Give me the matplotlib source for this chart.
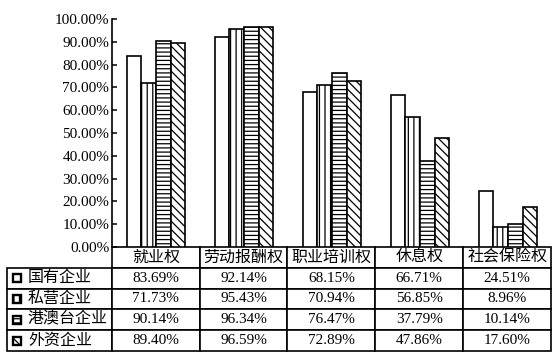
import numpy as np
import matplotlib
matplotlib.use("Agg")
import matplotlib.pyplot as plt
from matplotlib.patches import Rectangle

plt.rcParams['font.family'] = ['Liberation Serif', 'Noto Sans CJK SC']
plt.rcParams['hatch.linewidth'] = 0.9

categories = ['就业权', '劳动报酬权', '职业培训权', '休息权', '社会保险权']
series_names = ['国有企业', '私营企业', '港澳台企业', '外资企业']
state_owned = [83.69, 92.14, 68.15, 66.71, 24.51]
private = [71.73, 95.43, 70.94, 56.85, 8.96]
hk_mo_tw = [90.14, 96.34, 76.47, 37.79, 10.14]
foreign = [89.40, 96.59, 72.89, 47.86, 17.60]
series = [state_owned, private, hk_mo_tw, foreign]
hatches = ['', '|||', '----', '\\\\\\\\']
y_ticks = np.arange(0, 101, 10)

W, H = 552, 352
fig = plt.figure(figsize=(W / 100, H / 100), dpi=100)
ax = fig.add_axes([112 / W, 1 - 247 / H, 440 / W, 228 / H])

x = np.arange(len(categories))
bw = 0.165
for i, (vals, hatch) in enumerate(zip(series, hatches)):
    ax.bar(x + (i - 1.5) * bw, vals, bw, facecolor='white', edgecolor='black',
           linewidth=1.2, hatch=hatch, zorder=2)

ax.set_xlim(-0.5, len(categories) - 0.5)
ax.set_ylim(0, 100)
ax.set_yticks(y_ticks)
ax.set_yticklabels(['%.2f%%' % v for v in y_ticks], fontsize=11)
ax.set_xticks([])
ax.tick_params(axis='y', direction='in', length=3.3, width=1.1, pad=2)
for s in ['top', 'right', 'bottom']:
    ax.spines[s].set_visible(False)
ax.spines['left'].set_linewidth(1.2)

# data table under the bars
cell_text = [[''] + categories]
for name, vals in zip(series_names, series):
    cell_text.append([name] + ['%.2f%%' % v for v in vals])
col_w = [105] + [88] * 5
tbl = ax.table(cellText=cell_text, colWidths=[c / sum(col_w) for c in col_w],
               cellLoc='center', bbox=[(7 - 112) / 440, -104 / 228, 544 / 440, 104 / 228])
tbl.auto_set_font_size(False)
tbl.set_fontsize(11)
for (r, c), cell in tbl.get_celld().items():
    cell.set_linewidth(1.2)
    if r == 0 or c == 0:
        cell.get_text().set_fontsize(11.5)
    if r == 0 and c == 0:
        cell.visible_edges = 'open'
    if c == 0 and r > 0:
        cell._loc = 'left'
        cell.PAD = 0.2
        cell.get_text().set_horizontalalignment('left')

# legend keys in the row labels
row_h = 104 / 5
for i, hatch in enumerate(hatches):
    yc = 247 + row_h * (i + 1.5)
    fig.add_artist(Rectangle((13 / W, 1 - (yc + 4) / H), 8 / W, 8 / H,
                             transform=fig.transFigure, facecolor='white',
                             edgecolor='black', linewidth=1.7, hatch=hatch))

fig.savefig('out.png', dpi=100)
